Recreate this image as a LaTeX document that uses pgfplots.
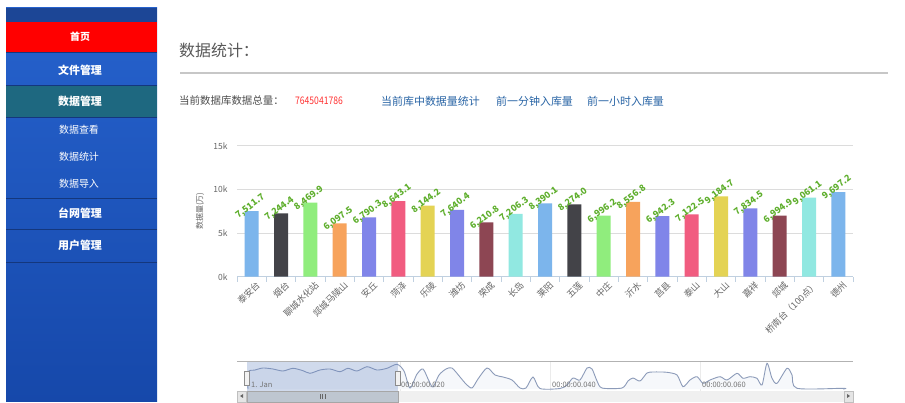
\documentclass[border=0pt]{standalone}
\usepackage{fontspec}
\setmainfont{Noto Sans CJK SC}
\usepackage{graphicx}
\usepackage{pgfplots}
\pgfplotsset{compat=1.18}
\definecolor{c0}{HTML}{7CB5EC}
\definecolor{c1}{HTML}{434348}
\definecolor{c2}{HTML}{90ED7D}
\definecolor{c3}{HTML}{F7A35C}
\definecolor{c4}{HTML}{8085E9}
\definecolor{c5}{HTML}{F15C80}
\definecolor{c6}{HTML}{E4D354}
\definecolor{c7}{HTML}{8085E8}
\definecolor{c8}{HTML}{8D4653}
\definecolor{c9}{HTML}{91E8E1}
\definecolor{sbtop}{RGB}{38,98,205}
\definecolor{sbbot}{RGB}{22,72,170}
\definecolor{sbdark}{RGB}{28,70,150}
\definecolor{sbteal}{RGB}{30,104,128}
\definecolor{sbsep}{RGB}{20,55,125}
\definecolor{gridc}{HTML}{DCDCDC}
\definecolor{axisc}{HTML}{C0D0E0}
\definecolor{labc}{HTML}{666666}
\definecolor{valc}{RGB}{95,175,45}
\definecolor{linkc}{RGB}{40,100,165}
\definecolor{navline}{RGB}{140,155,185}
\definecolor{navsel}{RGB}{102,133,194}
\begin{document}
\begin{tikzpicture}
\begin{scope}[x=1bp,y=1bp]
\path[use as bounding box] (0,0) rectangle (905,-402);
\fill[white] (0,0) rectangle (905,-402);
% ---------- sidebar ----------
\shade[top color=sbtop, bottom color=sbbot] (6,-8) rectangle (157,-402);
\fill[sbdark] (6,-8) rectangle (157,-22);
\fill[red] (6,-22) rectangle (157,-52);
\fill[sbteal] (6,-86) rectangle (157,-117);
\draw[sbsep, line width=0.8bp] (6,-52.5) -- (157,-52.5);
\draw[sbsep, line width=0.8bp] (6,-85.5) -- (157,-85.5);
\draw[sbsep, line width=0.8bp] (6,-117.5) -- (157,-117.5);
\draw[sbsep, line width=0.8bp] (6,-198) -- (157,-198);
\draw[sbsep, line width=0.8bp] (6,-229) -- (157,-229);
\draw[sbsep, line width=0.8bp] (6,-262) -- (157,-262);
\begin{scope}[every node/.style={text=white, inner sep=0pt}]
\node[font=\bfseries\fontsize{10}{11}\selectfont] at (80,-37) {首页};
\node[font=\bfseries\fontsize{11}{12}\selectfont] at (80,-70) {文件管理};
\node[font=\bfseries\fontsize{11}{12}\selectfont] at (80,-101) {数据管理};
\node[font=\fontsize{10}{11}\selectfont] at (79,-130) {数据查看};
\node[font=\fontsize{10}{11}\selectfont] at (79,-157) {数据统计};
\node[font=\fontsize{10}{11}\selectfont] at (79,-184) {数据导入};
\node[font=\bfseries\fontsize{11}{12}\selectfont] at (80,-213) {台网管理};
\node[font=\bfseries\fontsize{11}{12}\selectfont] at (80,-245) {用户管理};
\end{scope}
% ---------- header ----------
\node[anchor=west, inner sep=0pt, text=black!65, font=\fontsize{16}{18}\selectfont] at (179,-50) {数据统计：};
\draw[black!22, line width=2bp] (180,-73) -- (888,-73);
\node[anchor=west, inner sep=0pt, text=black!70, font=\fontsize{10.5}{12}\selectfont] at (179,-101) {当前数据库数据总量：};
\node[anchor=west, inner sep=0pt, text=red!80, font=\fontsize{10.5}{12}\selectfont] at (295,-101) {\scalebox{0.82}[1]{7645041786}};
\node[anchor=west, inner sep=0pt, text=linkc, font=\fontsize{11}{12}\selectfont] at (381,-101) {当前库中数据量统计};
\node[anchor=west, inner sep=0pt, text=linkc, font=\fontsize{11}{12}\selectfont] at (496,-101) {前一分钟入库量};
\node[anchor=west, inner sep=0pt, text=linkc, font=\fontsize{11}{12}\selectfont] at (587,-101) {前一小时入库量};
% y axis title
\node[rotate=90, text=labc, inner sep=0pt, font=\fontsize{8}{9}\selectfont] at (200,-211) {数据量(万)};
% navigator background + grid
\fill[white] (237,-362) rectangle (853,-391);
\draw[black!8] (400,-362) -- (400,-391);
\draw[black!8] (550,-362) -- (550,-391);
\draw[black!8] (700,-362) -- (700,-391);
\end{scope}
% ---------- main chart ----------
\begin{axis}[
  at={(237bp,-276.7bp)}, anchor=south west,
  width=616bp, height=131bp, scale only axis,
  xmin=-0.5, xmax=20.5, ymin=0, ymax=15000,
  axis x line*=bottom, axis y line*=left,
  y axis line style={draw=none},
  x axis line style={draw=axisc, line width=0.8bp},
  scaled y ticks=false,
  ytick={0,5000,10000,15000}, yticklabels={0k,5k,10k,15k},
  ytick style={draw=none},
  yticklabel style={text=labc, font=\fontsize{8.5}{9}\selectfont, xshift=-6bp},
  xtick={0,...,20},
  xticklabels={泰安台,烟台,聊城水化站,郯城马陵山,安丘,菏泽,乐陵,潍坊,荣成,长岛,莱阳,五莲,中庄,沂水,莒县,泰山,大山,嘉祥,郯城,桥南台（100点）,德州},
  xticklabel style={rotate=45, anchor=north east, inner sep=1bp, text=labc, font=\fontsize{9}{10}\selectfont, yshift=-4bp, xshift=1bp},
  minor xtick={-0.5,0.5,...,20.5},
  tick align=outside,
  major tick length=0pt, minor tick length=5bp,
  minor tick style={draw=axisc, line width=0.8bp},
  ymajorgrids, major grid style={draw=gridc, line width=0.9bp},
  clip=false,
  nodes near coords,
  /pgf/number format/assume math mode=true,
  /pgf/number format/fixed, /pgf/number format/fixed zerofill,
  /pgf/number format/precision=1, /pgf/number format/1000 sep={,},
  every node near coord/.style={xshift=2bp, rotate=37, anchor=south, inner sep=1bp, text=valc, font=\bfseries\fontsize{9}{10}\selectfont},
  every axis plot/.append style={ybar, bar width=14bp, bar shift=0pt, draw=none},
]
\addplot[fill=c0] coordinates {(0,7511.7) (10,8390.1) (20,9697.2)};
\addplot[fill=c1] coordinates {(1,7244.4) (11,8274.0)};
\addplot[fill=c2] coordinates {(2,8469.9) (12,6996.2)};
\addplot[fill=c3] coordinates {(3,6097.5) (13,8556.8)};
\addplot[fill=c4] coordinates {(4,6790.3) (14,6942.3)};
\addplot[fill=c5] coordinates {(5,8643.1) (15,7122.5)};
\addplot[fill=c6] coordinates {(6,8144.2) (16,9184.7)};
\addplot[fill=c7] coordinates {(7,7640.4) (17,7834.5)};
\addplot[fill=c8] coordinates {(8,6210.8) (18,6994.9)};
\addplot[fill=c9] coordinates {(9,7206.3) (19,9061.1)};
\end{axis}
% ---------- navigator ----------
\begin{axis}[
  at={(237bp,-389bp)}, anchor=south west,
  width=616bp, height=27bp, scale only axis,
  xmin=237, xmax=853, ymin=0, ymax=27,
  hide axis, clip=false,
]
\addplot[draw=navline, line width=0.9bp, fill=navsel!6, smooth, tension=0.45] coordinates {
(248,0) (248,17) (255,19) (263,21) (273,20) (283,18) (293,20.7) (303,18.3) (310,15.7) (320,19) (330,20) (340,17.3) (348,20.7) (357,18) (367,22.3) (377,19) (387,20.7) (397,24.7) (404,18) (410,1) (417,15) (423,20) (429,8) (433,2) (439,14) (446,20) (452,21) (460,12) (466,5) (472,1) (478,10) (487,21) (495,14) (503,12) (512,9) (520,1) (526,1) (533,12) (540,0.5) (560,0.5) (567,4) (573,11) (580,9) (587,21) (592,20) (597,8) (602,1) (622,1) (628,8) (633,11) (640,8) (647,16) (653,17) (660,17) (667,16.7) (677,14) (683,2.3) (690,9) (697,12.3) (703,5.7) (710,9) (720,12.3) (727,9) (737,15.7) (743,10.7) (750,12.3) (757,10.7) (762,4) (767,25.7) (772,10.7) (777,5.7) (787,20.7) (792,14) (797,0.7) (843,0.7) (843,0)};
\end{axis}
\begin{scope}[x=1bp,y=1bp]
\fill[navsel, opacity=0.3] (247,-362) rectangle (398,-391);
\draw[black!30, line width=0.8bp] (237,-361.5) -- (853,-361.5);
\begin{scope}[every node/.style={text=black!55, inner sep=0pt, anchor=west, font=\fontsize{7.5}{8}\selectfont}]
\node at (251,-385) {1. Jan};
\node at (401,-385) {00:00:00.020};
\node at (552,-385) {00:00:00.040};
\node at (702,-385) {00:00:00.060};
\end{scope}
\draw[black!45, fill=black!5] (244.5,-371) rectangle (249.5,-385);
\draw[black!45, fill=black!5] (395.5,-371) rectangle (400.5,-385);
% scrollbar
\fill[black!6] (237,-391.5) rectangle (853,-402);
\draw[black!25, fill=black!10] (237,-391.5) rectangle (246,-402);
\draw[black!25, fill=black!10] (844,-391.5) rectangle (853,-402);
\fill[black!60] (240,-396) -- (243,-394) -- (243,-398) -- cycle;
\fill[black!60] (850,-396) -- (847,-394) -- (847,-398) -- cycle;
\draw[black!35, fill={rgb,255:red,190;green,198;blue,208}] (247,-391.5) rectangle (398,-402);
\draw[black!60] (320,-394.5) -- (320,-399) (322.5,-394.5) -- (322.5,-399) (325,-394.5) -- (325,-399);
\end{scope}
\end{tikzpicture}
\end{document}
